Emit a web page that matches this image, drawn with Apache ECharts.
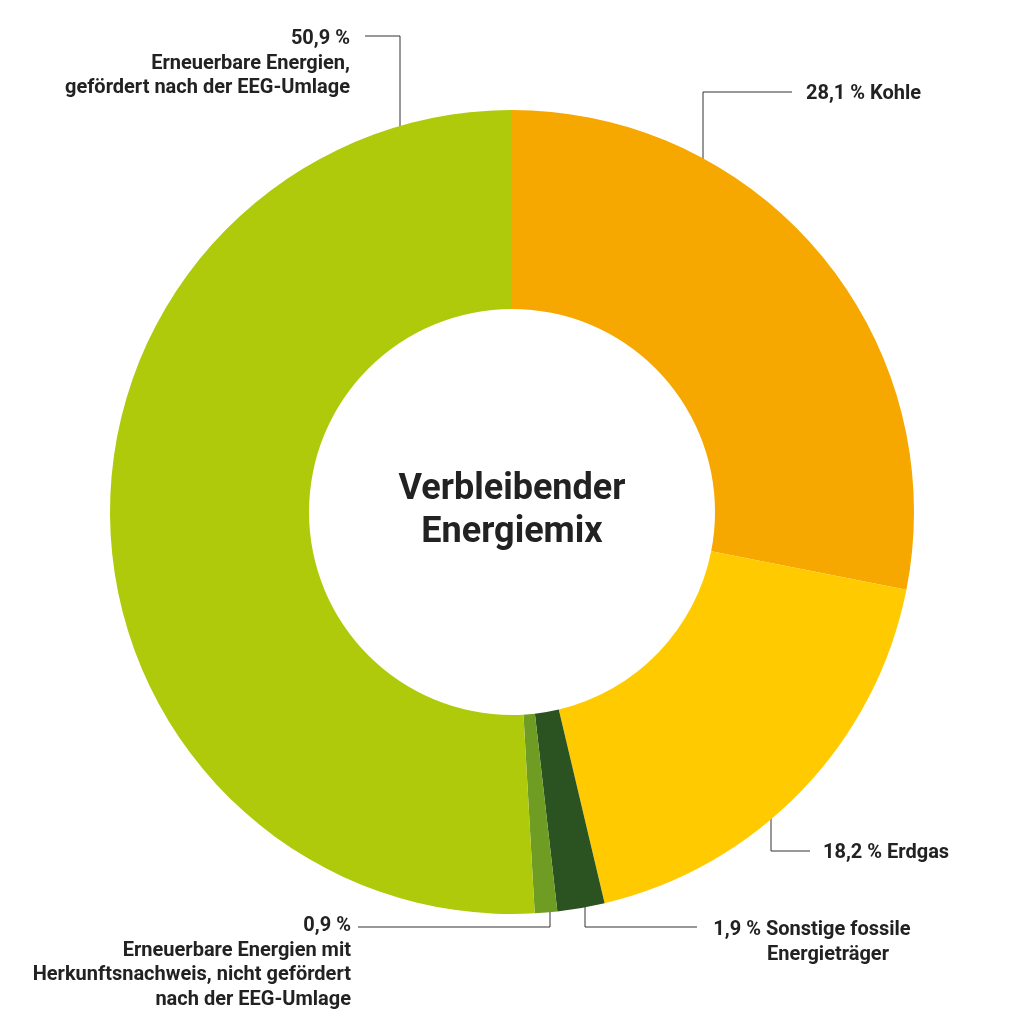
<!DOCTYPE html>
<html>
<head>
<meta charset="utf-8">
<script src="https://cdn.jsdelivr.net/npm/echarts@6/dist/echarts.min.js"></script>
<style>
  html, body { margin: 0; padding: 0; background: #fff; }
  #chart { width: 1024px; height: 1024px; }
</style>
</head>
<body>
<div id="chart"></div>
<script>
// shares in %, clockwise from 12 o'clock
const names = ['Kohle', 'Erdgas', 'Sonstige fossile Energieträger',
  'Erneuerbare Energien mit Herkunftsnachweis', 'Erneuerbare Energien, gefördert nach der EEG-Umlage'];
const values = [28.1, 18.2, 1.9, 0.9, 50.9];
const labelTexts = [
  ' Kohle',
  ' Erdgas',
  ' Sonstige fossile\n{shift|Energieträger}',
  '\nErneuerbare Energien mit\nHerkunftsnachweis, nicht gefördert\nnach der EEG-Umlage',
  '\nErneuerbare Energien,\ngefördert nach der EEG-Umlage'
];
const colors = ['#f6a800', '#ffcb00', '#2b5221', '#6f9c22', '#afca0a'];

// where each label sits and how its leader line runs
const labelSpots = [
  {x: 806, y: 82, align: 'left', line: [[703, 210], [703, 92], [792, 92]]},
  {x: 823, y: 841, align: 'left', line: [[771, 785], [771, 851], [810, 851]]},
  {x: 812, y: 918, align: 'center', line: [[585, 872], [585, 927], [697, 927]]},
  {x: 351, y: 914, align: 'right', line: [[550, 872], [550, 927], [358, 927]]},
  {x: 350, y: 27, align: 'right', line: [[400, 182], [400, 36], [365, 36]]}
];

const chart = echarts.init(document.getElementById('chart'));

const labelFont = {
  fontFamily: 'Roboto',
  fontWeight: 'bold',
  fontSize: 20,
  lineHeight: 24.5,
  color: '#222'
};

const option = {
  animation: false,
  title: {
    text: 'Verbleibender\nEnergiemix',
    left: 'center',
    top: 463,
    textStyle: {
      fontFamily: 'Roboto',
      fontWeight: 'bold',
      fontSize: 36,
      lineHeight: 43,
      color: '#222'
    }
  },
  series: [{
    type: 'pie',
    center: ['50%', '50%'],
    radius: [203, 402],
    startAngle: 90,
    clockwise: true,
    avoidLabelOverlap: false,
    data: values.map((v, i) => ({value: v, name: names[i], itemStyle: {color: colors[i]}})),
    label: Object.assign({
      show: true,
      position: 'outside',
      formatter: p => String(values[p.dataIndex]).replace('.', ',') + ' %' + labelTexts[p.dataIndex],
      rich: {
        shift: Object.assign({padding: [0, 0, 0, 32]}, labelFont)
      }
    }, labelFont),
    labelLine: {
      show: true,
      length: 10,
      length2: 10,
      lineStyle: {color: '#333', width: 1}
    },
    labelLayout: p => {
      const s = labelSpots[p.dataIndex];
      return {
        x: s.x,
        y: s.y,
        align: s.align,
        verticalAlign: 'top',
        labelLinePoints: s.line
      };
    },
    emphasis: {disabled: true}
  }]
};

chart.setOption(option);
</script>
</body>
</html>
